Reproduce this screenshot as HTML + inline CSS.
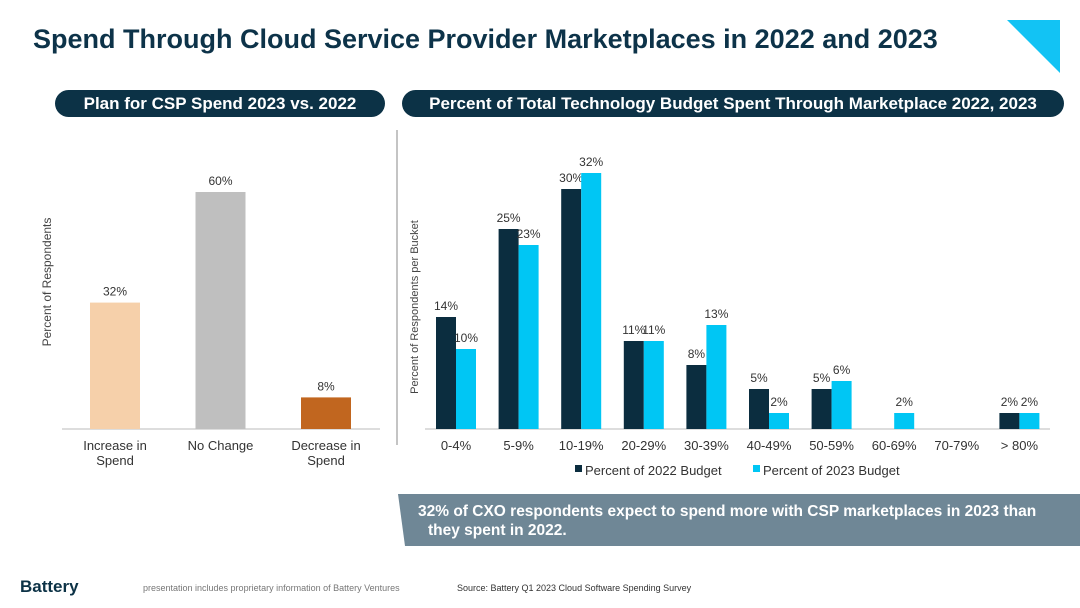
<!DOCTYPE html>
<html><head><meta charset="utf-8"><style>
body{margin:0;width:1080px;height:608px;background:#fff;font-family:"Liberation Sans",sans-serif;overflow:hidden;position:relative}
.t{position:absolute;left:33px;top:24px;font-size:27px;font-weight:bold;color:#0d3349;letter-spacing:0px}
.pill{position:absolute;background:#0c3246;color:#fff;font-weight:bold;font-size:17px;text-align:center;line-height:27px;border-radius:14px}
</style></head><body>
<div class="t">Spend Through Cloud Service Provider Marketplaces in 2022 and 2023</div>
<svg style="position:absolute;left:0;top:0" width="1080" height="608">
<polygon points="1007,20 1060,20 1060,73" fill="#12c3f4"/>
<line x1="397" y1="130" x2="397" y2="445" stroke="#888" stroke-width="1"/>
<polygon points="398,494 1080,494 1080,546 405,546" fill="#6f8796"/>
<text x="418" y="516" font-size="15.5" font-weight="bold" fill="#fff">32% of CXO respondents expect to spend more with CSP marketplaces in 2023 than</text>
<text x="428" y="535" font-size="15.5" font-weight="bold" fill="#fff">they spent in 2022.</text>
<text x="20" y="592" font-size="17" font-weight="bold" fill="#0c3246">Battery</text>
<text x="143" y="591" font-size="9" fill="#777">presentation includes proprietary information of Battery Ventures</text>
<text x="457" y="591" font-size="9" fill="#333">Source: Battery Q1 2023 Cloud Software Spending Survey</text>
</svg>
<div class="pill" style="left:55px;top:90px;width:330px">Plan for CSP Spend 2023 vs. 2022</div>
<div class="pill" style="left:402px;top:90px;width:662px">Percent of Total Technology Budget Spent Through Marketplace 2022, 2023</div>
<svg id="c1" style="position:absolute;left:0;top:0" width="400" height="480"></svg>
<svg id="c2" style="position:absolute;left:0;top:0" width="1080" height="490"></svg>
<script>
const planCats=[["Increase in","Spend"],["No Change"],["Decrease in","Spend"]];
const planVals=[32,60,8];
const planColors=["#f6d0aa","#bfbfbf","#c1661f"];
const bucketCats=["0-4%","5-9%","10-19%","20-29%","30-39%","40-49%","50-59%","60-69%","70-79%","> 80%"];
const vals2022=[14,25,30,11,8,5,5,0,0,2];
const vals2023=[10,23,32,11,13,2,6,2,0,2];
const NS="http://www.w3.org/2000/svg";
function mk(svg,tag,a,txt){const e=document.createElementNS(NS,tag);for(const k in a)e.setAttribute(k,a[k]);if(txt!=null)e.textContent=txt;svg.appendChild(e);return e;}
const c1=document.getElementById('c1'),c2=document.getElementById('c2');
const base=429;
const y1=v=>base-v*3.95, x1=i=>90+i*105.5;
let e=mk(c1,'line',{x1:62,y1:base,x2:380,y2:base,stroke:'#bbb'});


e=mk(c1,'text',{x:0,y:0,transform:'translate(51,282) rotate(-90)','text-anchor':'middle','font-size':12,fill:'#444'},'Percent of Respondents');


planVals.forEach((v,i)=>{
 let r=mk(c1,'rect',{x:x1(i),y:y1(v),width:50,height:base-y1(v),fill:planColors[i]});
 
 
 let t=mk(c1,'text',{x:x1(i)+25,y:y1(v)-7,'text-anchor':'middle','font-size':12,fill:'#333'},v+'%');
 
 
 planCats[i].forEach((s,j)=>{let l=mk(c1,'text',{x:x1(i)+25,y:450+j*15,'text-anchor':'middle','font-size':13,fill:'#333'},s);
 
 });
});
const y2=v=>base-v*8, x2=i=>456+i*62.6;
e=mk(c2,'line',{x1:425,y1:base,x2:1050,y2:base,stroke:'#bbb'});


e=mk(c2,'text',{x:0,y:0,transform:'translate(418,307) rotate(-90)','text-anchor':'middle','font-size':11,fill:'#444'},'Percent of Respondents per Bucket');


bucketCats.forEach((c,i)=>{
 const cx=x2(i);
 [[vals2022[i],cx-20,'#0b2d3f'],[vals2023[i],cx,'#00c6f4']].forEach(([v,x,col],k)=>{
  if(v<=0)return;
  let r=mk(c2,'rect',{x:x,y:y2(v),width:20,height:base-y2(v),fill:col});
  
  
  let t=mk(c2,'text',{x:x+10,y:y2(v)-7,'text-anchor':'middle','font-size':12,fill:'#333'},v+'%');
  
  
 });
 let l=mk(c2,'text',{x:cx,y:450,'text-anchor':'middle','font-size':13,fill:'#333'},c);
 
 
});
[[575,'#0b2d3f','Percent of 2022 Budget'],[753,'#00c6f4','Percent of 2023 Budget']].forEach(([x,col,s])=>{
 let r=mk(c2,'rect',{x:x,y:465,width:7,height:7,fill:col});
 
 
 let t=mk(c2,'text',{x:x+10,y:475,'font-size':13,fill:'#333'},s);
 
 
});
</script>
</body></html>
